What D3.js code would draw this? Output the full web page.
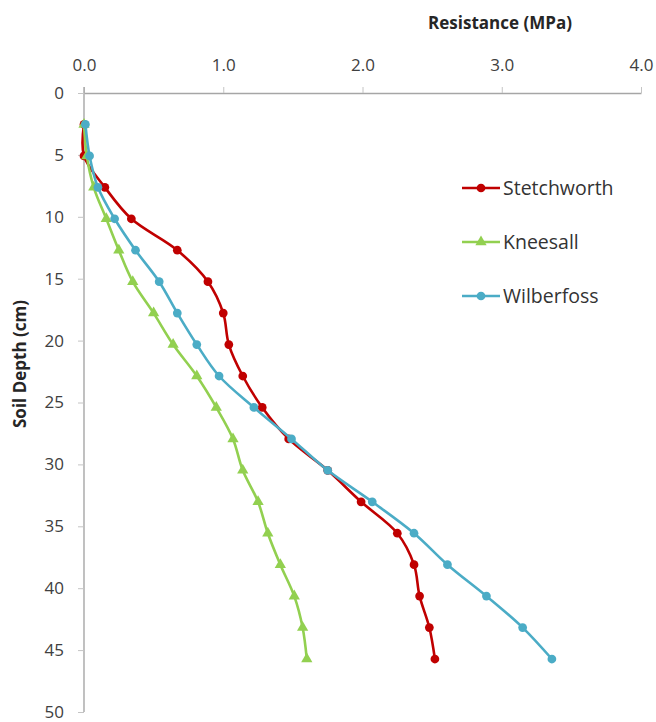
<!DOCTYPE html>
<html>
<head>
<meta charset="utf-8">
<script src="https://cdn.jsdelivr.net/npm/d3@7"></script>
<style>
  body { margin: 0; background: #fff; }
  text { font-family: "Open Sans", sans-serif; fill: #404040; }
  .domain { stroke: #a6a6a6; stroke-width: 1.4; }
  .tick line { stroke: #c4c4c4; }
</style>
</head>
<body>
<div id="chart"></div>
<script>
// depth of each reading (cm), one every inch
var depths = [2.54, 5.08, 7.62, 10.16, 12.7, 15.24, 17.78, 20.32, 22.86,
    25.4, 27.94, 30.48, 33.02, 35.56, 38.1, 40.64, 43.18, 45.72];

// resistance (MPa)
var stetchworth = [0.0, 0.0, 0.15, 0.34, 0.67, 0.89, 1.0, 1.04, 1.14,
    1.28, 1.47, 1.75, 1.99, 2.25, 2.37, 2.41, 2.48, 2.52];
var kneesall = [0.0, 0.02, 0.07, 0.16, 0.25, 0.35, 0.5, 0.64, 0.81,
    0.95, 1.07, 1.14, 1.25, 1.32, 1.41, 1.51, 1.57, 1.6];
var wilberfoss = [0.01, 0.04, 0.1, 0.22, 0.37, 0.54, 0.67, 0.81, 0.97,
    1.22, 1.49, 1.75, 2.07, 2.37, 2.61, 2.89, 3.15, 3.36];

var seriesNames = ["Stetchworth", "Kneesall", "Wilberfoss"];
var xTicks = [0, 1, 2, 3, 4];
var yTicks = [0, 5, 10, 15, 20, 25, 30, 35, 40, 45, 50];

var svgWidth = 656;
var svgHeight = 722;
var margin = { top: 93, right: 15, bottom: 10, left: 84 };
var width = 641 - margin.left;
var height = 712 - margin.top;

var svg = d3.select("#chart")
    .append("svg")
    .attr("width", svgWidth)
    .attr("height", svgHeight);

var chartGroup = svg.append("g")
    .attr("transform", `translate(${margin.left}, ${margin.top})`);

var xScale = d3.scaleLinear().domain([0, 4]).range([0, width]);
var yScale = d3.scaleLinear().domain([0, 50]).range([0, height]);

// axes
var topAxis = chartGroup.append("g")
    .call(d3.axisTop(xScale).tickValues(xTicks).tickFormat(d3.format(".1f"))
        .tickSize(6).tickSizeOuter(0).tickPadding(16));
topAxis.selectAll("text").attr("font-size", "17px");

var leftAxis = chartGroup.append("g")
    .call(d3.axisLeft(yScale).tickValues(yTicks)
        .tickSize(6).tickSizeOuter(0).tickPadding(14));
leftAxis.selectAll("text").attr("font-size", "17px");
leftAxis.select(".domain").attr("d", `M0,-6V${height}`);

// axis titles
svg.append("text")
    .attr("x", 500)
    .attr("y", 29)
    .attr("text-anchor", "middle")
    .attr("font-size", "17px")
    .attr("font-weight", "bold")
    .style("fill", "#262626")
    .text("Resistance (MPa)");

svg.append("text")
    .attr("transform", "translate(26, 364) rotate(-90)")
    .attr("text-anchor", "middle")
    .attr("font-size", "17px")
    .attr("font-weight", "bold")
    .style("fill", "#262626")
    .text("Soil Depth (cm)");

// series
var colors = ["#c00000", "#92d050", "#4bacc6"];
var seriesValues = [stetchworth, kneesall, wilberfoss];
var shapes = [d3.symbolCircle, d3.symbolTriangle, d3.symbolCircle];

var line = d3.line()
    .x(d => xScale(d.r))
    .y(d => yScale(d.depth))
    .curve(d3.curveCatmullRom.alpha(0.5));

seriesValues.forEach(function (vals, i) {
    var pts = vals.map((v, j) => ({ r: v, depth: depths[j] }));
    chartGroup.append("path")
        .datum(pts)
        .attr("fill", "none")
        .attr("stroke", colors[i])
        .attr("stroke-width", 2.6)
        .attr("d", line);
    chartGroup.selectAll(null)
        .data(pts)
        .enter()
        .append("path")
        .attr("transform", d => `translate(${xScale(d.r)}, ${yScale(d.depth)})`)
        .attr("d", d3.symbol().type(shapes[i]).size(i === 1 ? 55 : 60))
        .attr("fill", colors[i]);
});

// legend
var legend = svg.append("g").attr("transform", "translate(462, 188)");
seriesNames.forEach(function (name, i) {
    var g = legend.append("g").attr("transform", `translate(0, ${i * 54})`);
    g.append("line")
        .attr("x1", 0).attr("x2", 38)
        .attr("stroke", colors[i])
        .attr("stroke-width", 2.6);
    g.append("path")
        .attr("transform", "translate(19, 0)")
        .attr("d", d3.symbol().type(shapes[i]).size(i === 1 ? 55 : 60))
        .attr("fill", colors[i]);
    g.append("text")
        .attr("x", 41)
        .attr("dy", "0.35em")
        .attr("font-size", "19.5px")
        .style("fill", "#333")
        .text(name);
});
</script>
</body>
</html>
